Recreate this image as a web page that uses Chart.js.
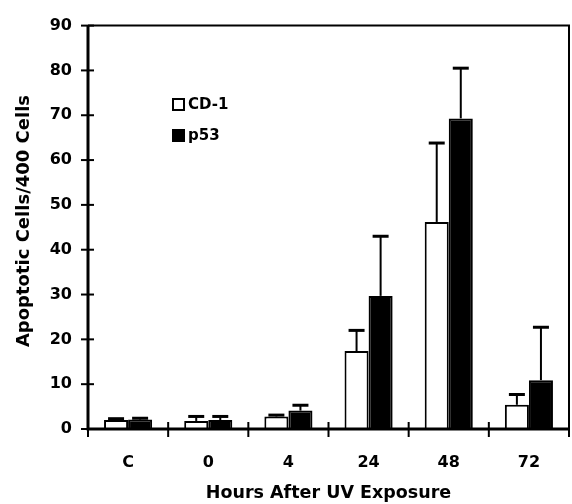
<!DOCTYPE html>
<html>
<head>
<meta charset="utf-8">
<script src="https://cdn.jsdelivr.net/npm/chart.js@4"></script>
<style>
  html, body { margin: 0; padding: 0; background: #fff; }
  #wrap { width: 572px; height: 504px; }
</style>
</head>
<body>
<div id="wrap"><canvas id="canva1" width="572" height="504"></canvas></div>
<script>
// données
const heures = ['C', '0', '4', '24', '48', '72'];
const cd1 = [2.0, 1.8, 2.8, 17.4, 46.2, 5.4];
const cd1Err = [0.3, 1.0, 0.3, 4.6, 17.6, 2.3];
const p53 = [2.1, 2.0, 4.1, 29.7, 69.3, 10.9];
const p53Err = [0.3, 0.8, 1.2, 13.3, 11.2, 11.8];
const yTicks = [0, 10, 20, 30, 40, 50, 60, 70, 80, 90];

const police = "'DejaVu Sans', Verdana, sans-serif";

// barres d'erreur (vers le haut seulement), petits traits qui croisent les axes, cadre, légende
const dessinPerso = {
    id: 'dessinPerso',
    afterDatasetsDraw(chart) {
        const ctx = chart.ctx;
        const area = chart.chartArea;
        const y = chart.scales.y;
        ctx.save();
        ctx.strokeStyle = '#000';

        // barres d'erreur
        chart.data.datasets.forEach((ds, i) => {
            const meta = chart.getDatasetMeta(i);
            meta.data.forEach((bar, j) => {
                const yHaut = y.getPixelForValue(ds.data[j] + ds.erreurs[j]);
                ctx.lineWidth = 2;
                ctx.beginPath();
                ctx.moveTo(bar.x, bar.y);
                ctx.lineTo(bar.x, yHaut);
                ctx.stroke();
                ctx.lineWidth = 3;
                ctx.beginPath();
                ctx.moveTo(bar.x - 8, yHaut);
                ctx.lineTo(bar.x + 8, yHaut);
                ctx.stroke();
            });
        });

        // cadre haut + droite
        ctx.lineWidth = 2;
        ctx.beginPath();
        ctx.moveTo(area.left, area.top);
        ctx.lineTo(area.right, area.top);
        ctx.lineTo(area.right, area.bottom);
        ctx.stroke();

        // axes
        ctx.lineWidth = 3;
        ctx.beginPath();
        ctx.moveTo(area.left, area.top);
        ctx.lineTo(area.left, area.bottom);
        ctx.lineTo(area.right, area.bottom);
        ctx.stroke();

        // graduations y (croisent l'axe)
        ctx.lineWidth = 2;
        yTicks.forEach(v => {
            const py = y.getPixelForValue(v);
            ctx.beginPath();
            ctx.moveTo(area.left - 7, py);
            ctx.lineTo(area.left + 6, py);
            ctx.stroke();
        });

        // graduations x entre les catégories
        for (let k = 0; k <= heures.length; k++) {
            const px = area.left + k * (area.right - area.left) / heures.length;
            ctx.beginPath();
            ctx.moveTo(px, area.bottom - 7);
            ctx.lineTo(px, area.bottom + 8);
            ctx.stroke();
        }

        // légende
        ctx.font = 'bold 15px ' + police;
        ctx.textBaseline = 'middle';
        chart.data.datasets.forEach((ds, i) => {
            const ly = 104 + i * 31;
            ctx.lineWidth = 2;
            ctx.fillStyle = ds.backgroundColor;
            ctx.fillRect(173, ly - 5, 11, 11);
            ctx.strokeRect(173, ly - 5, 11, 11);
            ctx.fillStyle = '#000';
            ctx.fillText(ds.label, 188, ly + 1);
        });
        ctx.restore();
    }
};

const ctx = document.querySelector('#canva1');

const monGraphique = new Chart(ctx, {
    type: 'bar',
    data: {
        labels: heures,
        datasets: [
            {
                label: 'CD-1',
                data: cd1,
                erreurs: cd1Err,
                backgroundColor: '#ffffff',
                borderColor: '#000000',
                borderWidth: 2
            },
            {
                label: 'p53',
                data: p53,
                erreurs: p53Err,
                backgroundColor: '#000000',
                borderColor: '#000000',
                borderWidth: 2
            }
        ]
    },
    options: {
        responsive: false,
        animation: false,
        layout: { padding: { top: 19, right: 3, left: 0, bottom: 0 } },
        datasets: {
            bar: { categoryPercentage: 0.6, barPercentage: 1.0, borderSkipped: 'start' }
        },
        scales: {
            x: {
                grid: { display: false, drawTicks: false },
                border: { display: false },
                ticks: {
                    color: '#000',
                    padding: 24,
                    font: { family: police, size: 16, weight: 'bold' }
                },
                title: {
                    display: true,
                    text: 'Hours After UV Exposure',
                    color: '#000',
                    padding: 0,
                    font: { family: police, size: 17.5, weight: 'bold' }
                },
                afterFit: scale => { scale.height = 75; }
            },
            y: {
                min: 0,
                max: 90,
                afterBuildTicks: scale => { scale.ticks = yTicks.map(v => ({ value: v })); },
                grid: { display: false, drawTicks: false },
                border: { display: false },
                ticks: {
                    color: '#000',
                    padding: 16,
                    font: { family: police, size: 16, weight: 'bold' }
                },
                title: {
                    display: true,
                    // deux espaces devant pour remonter un peu le titre
                    text: '  Apoptotic Cells/400 Cells',
                    color: '#000',
                    padding: { top: 14, bottom: 0 },
                    font: { family: police, size: 18, weight: 'bold' }
                },
                afterFit: scale => { scale.width = 88; }
            }
        },
        plugins: {
            legend: { display: false },
            tooltip: { enabled: false }
        }
    },
    plugins: [dessinPerso]
});
</script>
</body>
</html>
